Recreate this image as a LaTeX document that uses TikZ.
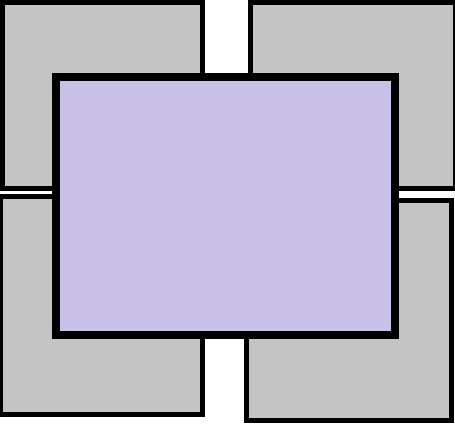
\documentclass[tikz,border=0pt]{standalone}
\definecolor{boxgray}{RGB}{196,196,196}
\definecolor{lavender}{RGB}{200,192,230}
\begin{document}
\begin{tikzpicture}[x=1pt,y=-1pt,
  graybox/.style={draw=black,fill=boxgray,line width=5pt},
  frontbox/.style={draw=black,fill=lavender,line width=8pt}]
\useasboundingbox (0,0) rectangle (455,423);
\begin{scope}
\clip (0,0) rectangle (455,423);
\draw[graybox] (2.5,2.5) rectangle (202.3,188.3);
\draw[graybox] (250.7,2.5) rectangle (455.8,188.3);
\draw[graybox] (0.5,196.5) rectangle (202.5,414.3);
\draw[graybox] (246.5,200.8) rectangle (451,420.7);
\draw[frontbox] (56,77) rectangle (395,335);
\end{scope}
\end{tikzpicture}
\end{document}
